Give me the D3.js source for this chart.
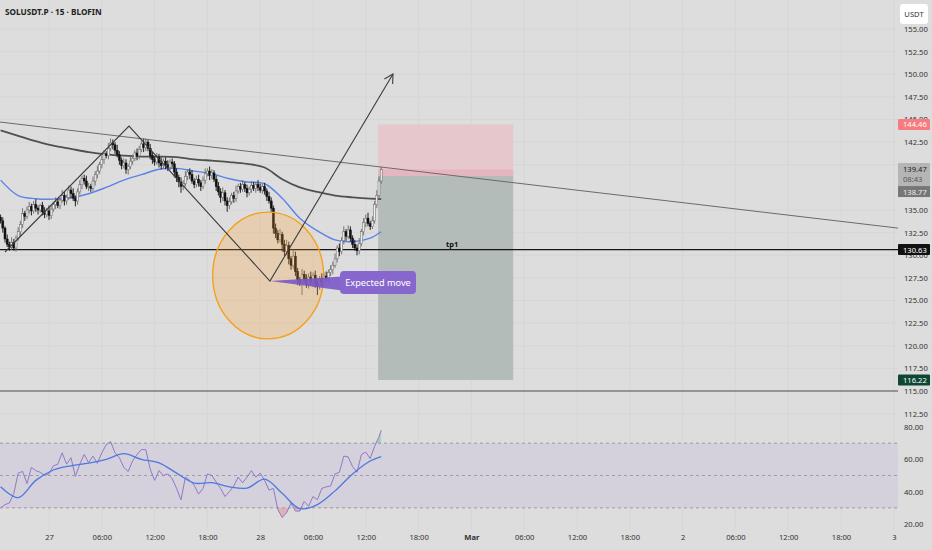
<!DOCTYPE html>
<html><head><meta charset="utf-8">
<script src="https://cdn.jsdelivr.net/npm/d3@7"></script>
<style>
html,body{margin:0;padding:0;background:#dddddd;}
svg{display:block;font-family:"Noto Sans",Roboto,sans-serif;}
</style></head><body>
<svg id="c" width="932" height="550"></svg>
<script>
// ---------------- DATA ----------------
const title = "SOLUSDT.P · 15 · BLOFIN";
const firstOpen = 134.2;
const closes = [
133.8,133.0,131.8,131.2,130.9,131.4,130.8,131.9,132.6,133.4,
134.6,134.3,135.0,135.4,134.9,135.6,135.2,135.0,135.5,134.8,
134.5,134.9,134.4,135.1,135.6,135.9,135.5,136.1,136.6,136.0,
136.4,137.2,136.8,136.3,136.0,137.0,137.8,138.5,138.2,137.6,
137.6,137.4,138.2,138.9,139.3,140.0,140.6,141.2,141.0,141.8,
142.4,142.2,141.6,141.1,140.5,139.9,140.2,139.5,139.8,140.4,
140.7,141.3,141.0,141.7,142.3,141.9,142.5,141.8,141.0,140.6,
140.3,140.8,140.2,139.9,140.4,140.0,139.7,140.3,140.1,139.2,
138.6,138.1,137.6,137.9,138.7,139.2,138.9,138.2,137.8,138.4,
138.0,137.6,138.3,139.0,139.3,138.8,139.1,138.4,137.6,137.0,
136.4,136.9,136.0,135.5,135.9,136.6,136.3,137.1,137.6,137.3,
137.8,137.4,136.9,137.3,137.7,137.4,137.8,137.5,137.2,137.6,
137.1,136.5,136.0,135.2,133.0,132.4,131.7,132.3,131.2,130.4,
131.1,129.6,128.9,129.9,128.2,127.3,127.0,127.9,127.4,126.8,
127.6,127.1,127.8,126.9,126.6,127.4,127.0,127.7,127.5,128.1,
128.4,128.9,129.6,130.8,130.4,131.6,132.6,132.1,132.8,131.9,
131.2,130.8,130.5,131.3,132.6,133.6,134.1,133.5,133.2,133.8,
135.6,136.6,138.2,139.47];
const wickUp = [
.3,.4,.2,.5,.3,.6,.4,.3,.5,.4, .6,.3,.4,.5,.3,.4,.6,.3,.2,.4,
.5,.3,.6,.4,.3,.5,.4,.3,.6,.4, .3,.5,.4,.6,.3,.4,.5,.3,.4,.6,
.4,.3,.5,.4,.6,.3,.5,.4,.3,.6, .5,.4,.3,.6,.4,.3,.5,.4,.3,.5,
.4,.3,.5,.4,.3,.6,.4,.3,.5,.4, .3,.5,.4,.6,.3,.4,.5,.3,.4,.3,
.4,.3,.5,.4,.6,.3,.4,.5,.3,.4, .5,.3,.4,.6,.3,.5,.4,.3,.4,.5,
.4,.6,.3,.4,.5,.3,.4,.6,.3,.4, .5,.3,.4,.3,.5,.4,.3,.5,.4,.3,
.4,.3,.5,.4,.3,.5,.4,.6,.3,.5, .6,.4,.3,.7,.5,.4,.3,.6,.4,.5,
.4,.6,.3,.5,.4,.3,.6,.4,.5,.3, .5,.4,.6,.3,.5,.4,.6,.3,.5,.4,
.3,.5,.4,.6,.3,.5,.4,.6,.3,.5, .4,.6,.5,.3];
const wickDn = [
.3,.5,.4,.3,.4,.3,.3,.4,.3,.5, .4,.5,.3,.4,.5,.3,.4,.5,.3,.4,
.4,.3,.5,.4,.3,.5,.3,.4,.3,.5, .4,.3,.5,.3,.6,.4,.3,.5,.4,.3,
.5,.4,.3,.5,.4,.3,.4,.5,.3,.4, .3,.5,.4,.3,.5,.4,.3,.5,.6,.3,
.4,.3,.5,.4,.3,.5,.4,.3,.4,.5, .4,.3,.5,.4,.3,.5,.4,.3,.4,.6,
.5,.6,.7,.4,.3,.4,.5,.3,.4,.3, .4,.5,.3,.4,.3,.5,.4,.3,.5,.4,
.6,.4,.5,.7,.4,.3,.5,.4,.3,.4, .3,.4,.5,.3,.4,.3,.5,.4,.3,.4,
.4,.5,.3,.4,.6,.5,.4,.3,.8,.5, .4,.6,.5,.4,.5,.6,.4,1.4,.5,.4,
.5,.4,.6,.5,1.0,.4,.5,.3,.4,.5, .4,.5,.3,.4,.5,.3,.4,.5,.3,.4,
.4,.3,.5,.4,.3,.4,.5,.3,.4,.3, .3,.4,.3,.3];
const maBars = d3.range(0,169,8).concat([173]);
const blueMa = [138.3,136.6,136.25,136.2,136.35,136.8,137.5,138.3,138.9,139.5,139.6,139.3,139.0,138.45,138.1,137.9,136.3,134.1,132.7,131.7,131.5,131.9,132.6];
const grayMa = [143.8,143.2,142.6,142.1,141.75,141.4,141.15,141.0,140.9,140.9,140.85,140.6,140.45,140.3,140.1,139.7,138.4,137.5,137.0,136.6,136.4,136.25,136.2];
const rsiBars = d3.range(0,173,2).concat([173]);
const rsiVals = [
30,32,33,39,51.5,52.5,45,55,53,52,
50,51,56,57,64,57,61,49.5,57,63,
58,62,57.5,64,69,71,64,61,55,52.5,
59,63,66,66,54,47,53,50,51,48,
42,35,49,47,44,38.5,42,51,50,46,
42,37,40,43.5,49,45.5,49,53,49,51.5,
47,41,42,29,24,27,33,28,28,34,
31,37,35,42,43,43.5,51,52,62,61.5,
55.5,52,63,64.5,60.5,68,74,78];
const rsiMa = [43,36.3,47,53.4,56,57.6,60,63.5,60,57.8,51.5,45.3,45.6,43,42.2,47.7,39,29.5,32,40.5,51,59,61.7];
const priceTicks = [112.5,115,117.5,120,122.5,125,127.5,130,132.5,135,140,142.5,145,147.5,150,152.5,155];
const rsiTicks = [20,40,60,80];
const rsiLevels = [70,50,30];
const timeTickHours = [0,6,12,18,24,30,36,42,48,54,60,66,72,78,84,90,96];
const timeTickLabels = ["27","06:00","12:00","18:00","28","06:00","12:00","18:00","Mar","06:00","12:00","18:00","2","06:00","12:00","18:00","3"];
// drawings (hours from Feb 27 00:00, price)
const zigHours = [-5.0, 9.09, 25.11, 39.09];
const zigPrices = [130.36, 144.28, 127.15, 150.03];
const trendHours = [-5.57, 96.48];
const trendPrices = [144.72, 133.0];
const position = {startH:37.4, endH:52.75, stop:144.46, entry:138.77, target:116.22, last:139.47};
const tpLevel = 130.63, tpLabel = "tp1", tpHour = 45.8;
const supportLevel = 115.0;
const ellipse = {h:24.9, p:127.76, rh:6.3, rp:7.0};
const callout = {text:"Expected move", h:33.07, p:126.99};
const countdown = "08:43";

// ---------------- SCALES ----------------
const svg = d3.select("#c");
const W = 898;
const T0 = Date.UTC(2025,1,27), H = 3600e3;
const hd = h => new Date(T0 + h*H);
const x = d3.scaleUtc().domain([hd(-49/8.8), hd((W-49)/8.8)]).range([0, W]);
const y = d3.scaleLinear().domain([111.796, 158.204]).range([420, 0]);
const yR = d3.scaleLinear().domain([16.3, 84.33]).range([530, 420]);
const barTime = i => hd(-5.5 + i*0.25);

// ---------------- GRID ----------------
const grid = svg.append("g");
grid.selectAll("line.v").data(timeTickHours).join("line")
  .attr("x1", d=>x(hd(d))).attr("x2", d=>x(hd(d))).attr("y1",0).attr("y2",530)
  .attr("stroke","#d6d6d6").attr("stroke-width",1);
grid.selectAll("line.h").data(priceTicks).join("line")
  .attr("x1",0).attr("x2",W).attr("y1",d=>y(d)).attr("y2",d=>y(d))
  .attr("stroke","#d6d6d6").attr("stroke-width",1);

// ---------------- RSI PANE ----------------
const rsiG = svg.append("g");
rsiG.append("rect").attr("x",0).attr("width",W).attr("y",yR(70)).attr("height",yR(30)-yR(70)).attr("fill","#d4d1dc");
rsiG.selectAll("line.lv").data(rsiLevels).join("line")
  .attr("x1",0).attr("x2",W).attr("y1",d=>yR(d)).attr("y2",d=>yR(d))
  .attr("stroke","#8e8e96").attr("stroke-width",0.8).attr("stroke-dasharray","3,3");
const rsiPts = rsiBars.map((b,i)=>[x(barTime(b)), yR(rsiVals[i])]);
const defs = svg.append("defs");
defs.append("clipPath").attr("id","below30").append("rect").attr("x",0).attr("width",W).attr("y",yR(30)).attr("height",530-yR(30));
defs.append("clipPath").attr("id","above70").append("rect").attr("x",0).attr("width",W).attr("y",0).attr("height",yR(70));
const areaLow = d3.area().x(d=>d[0]).y0(yR(30)).y1(d=>d[1]);
rsiG.append("path").attr("d",areaLow(rsiPts)).attr("fill","rgba(235,80,90,0.3)").attr("clip-path","url(#below30)");
const areaHigh = d3.area().x(d=>d[0]).y0(yR(70)).y1(d=>d[1]);
rsiG.append("path").attr("d",areaHigh(rsiPts)).attr("fill","rgba(60,180,120,0.3)").attr("clip-path","url(#above70)");
rsiG.append("path").attr("d",d3.line()(rsiPts)).attr("fill","none").attr("stroke","#9179c6").attr("stroke-width",1);
rsiG.append("path").attr("d",d3.line().curve(d3.curveCatmullRom)(maBars.map((b,i)=>[x(barTime(b)), yR(rsiMa[i])])))
  .attr("fill","none").attr("stroke","#4d78e0").attr("stroke-width",1.3);

// ---------------- POSITION BOX ----------------
const px0 = x(hd(position.startH)), px1 = x(hd(position.endH));
svg.append("rect").attr("x",px0).attr("width",px1-px0).attr("y",y(position.stop)).attr("height",y(position.entry)-y(position.stop)).attr("fill","#e6c7cc");
svg.append("rect").attr("x",px0).attr("width",px1-px0).attr("y",y(position.last)).attr("height",y(position.entry)-y(position.last)).attr("fill","#e6b6c0");
svg.append("rect").attr("x",px0).attr("width",px1-px0).attr("y",y(position.entry)).attr("height",y(position.target)-y(position.entry)).attr("fill","#b3bcb9");

// horizontal levels
svg.append("line").attr("x1",0).attr("x2",W).attr("y1",y(supportLevel)).attr("y2",y(supportLevel)).attr("stroke","#7d7d7d").attr("stroke-width",1.6);
svg.append("line").attr("x1",0).attr("x2",W).attr("y1",y(tpLevel)).attr("y2",y(tpLevel)).attr("stroke","#151515").attr("stroke-width",1.3);

// ---------------- MAs ----------------
const maLine = d3.line().curve(d3.curveCatmullRom);
svg.append("path").attr("d",maLine(maBars.map((b,i)=>[x(barTime(b)), y(grayMa[i])])))
  .attr("fill","none").attr("stroke","#505050").attr("stroke-width",1.8);
svg.append("path").attr("d",maLine(maBars.map((b,i)=>[x(barTime(b)), y(blueMa[i])])))
  .attr("fill","none").attr("stroke","#5b82e6").attr("stroke-width",1.4);

// ---------------- CANDLES ----------------
const bars = closes.map((c,i)=>{
  const o = i===0 ? firstOpen : closes[i-1];
  return {t:barTime(i), o, c, h:Math.max(o,c)+wickUp[i], l:Math.min(o,c)-wickDn[i]};
});
const cg = svg.append("g");
const bw = 2.0;
cg.selectAll("line").data(bars).join("line")
  .attr("x1",d=>x(d.t)).attr("x2",d=>x(d.t)).attr("y1",d=>y(d.h)).attr("y2",d=>y(d.l))
  .attr("stroke",d=>d.c>=d.o?"#6a6a6a":"#111").attr("stroke-width",0.9);
cg.selectAll("rect").data(bars).join("rect")
  .attr("x",d=>x(d.t)-bw/2).attr("width",bw)
  .attr("y",d=>y(Math.max(d.o,d.c))).attr("height",d=>Math.max(0.8, Math.abs(y(d.o)-y(d.c))))
  .attr("fill",d=>d.c>=d.o?"#ececec":"#111")
  .attr("stroke",d=>d.c>=d.o?"#666666":"#111").attr("stroke-width",0.5);

// ---------------- DRAWINGS ----------------
const ex = x(hd(ellipse.h)), ey = y(ellipse.p);
svg.append("ellipse").attr("cx",ex).attr("cy",ey)
  .attr("rx",x(hd(ellipse.h+ellipse.rh))-ex).attr("ry",y(ellipse.p-ellipse.rp)-ey)
  .attr("fill","rgba(255,160,40,0.24)").attr("stroke","#f5a020").attr("stroke-width",1.4);

svg.append("line").attr("x1",x(hd(trendHours[0]))).attr("y1",y(trendPrices[0]))
  .attr("x2",x(hd(trendHours[1]))).attr("y2",y(trendPrices[1]))
  .attr("stroke","#6a6a6a").attr("stroke-width",1);

const zig = zigHours.map((h,i)=>[x(hd(h)), y(zigPrices[i])]);
svg.append("path").attr("d",d3.line()(zig)).attr("fill","none").attr("stroke","#3c3c3c").attr("stroke-width",1.1);
{
  const [ax,ay] = zig[zig.length-1], [bx,by] = zig[zig.length-2];
  const ang = Math.atan2(by-ay, bx-ax), L = 10;
  const p1 = [ax+L*Math.cos(ang+0.5), ay+L*Math.sin(ang+0.5)];
  const p2 = [ax+L*Math.cos(ang-0.5), ay+L*Math.sin(ang-0.5)];
  svg.append("path").attr("d",d3.line()([p1,[ax,ay],p2])).attr("fill","none").attr("stroke","#3c3c3c").attr("stroke-width",1.1);
}

// callout
const cx0 = x(hd(callout.h)), cy = y(callout.p);
const tip = zig[2];
svg.append("path").attr("d",d3.line()([tip,[cx0+2,cy-6],[cx0+2,cy+8]])+"Z").attr("fill","#7a58c6").attr("opacity",0.9);
svg.append("rect").attr("x",cx0).attr("y",cy-11.5).attr("width",76).attr("height",23).attr("rx",4)
  .attr("fill","#8767cd");
svg.append("text").attr("x",cx0+38).attr("y",cy+3.3).attr("text-anchor","middle").attr("fill","#ffffff").attr("font-size",9.2).text(callout.text);

svg.append("text").attr("x",x(hd(tpHour))).attr("y",y(tpLevel)-3).attr("text-anchor","middle")
  .attr("font-size",7.5).attr("font-weight",700).attr("fill","#111").text(tpLabel);

// ---------------- AXES ----------------
const axR = svg.append("g").attr("transform",`translate(${W},0)`)
  .call(d3.axisRight(y).tickValues(priceTicks).tickFormat(d3.format(".2f")).tickSize(0).tickPadding(6));
const axRR = svg.append("g").attr("transform",`translate(${W},0)`)
  .call(d3.axisRight(yR).tickValues(rsiTicks).tickFormat(d3.format(".2f")).tickSize(0).tickPadding(6));
const axB = svg.append("g").attr("transform","translate(0,531)")
  .call(d3.axisBottom(x).tickValues(timeTickHours.map(hd)).tickFormat((d,i)=>timeTickLabels[i]).tickSize(0).tickPadding(4));
[axR,axRR,axB].forEach(a=>{ a.select(".domain").remove(); a.selectAll("text").attr("fill","#333").attr("font-size",7.6).attr("font-family","'Noto Sans',Roboto,sans-serif"); });
axB.selectAll("text").filter((d,i)=>timeTickLabels[i]==="Mar").attr("font-weight",700);

// price label boxes
function tag(p, fill, color, label, yc){
  const yy = yc===undefined ? y(p) : yc;
  svg.append("rect").attr("x",W).attr("y",yy-5.5).attr("width",32).attr("height",11).attr("rx",1).attr("fill",fill);
  svg.append("text").attr("x",W+5).attr("y",yy+3).attr("font-size",7.6).attr("fill",color).text(label);
}
tag(position.stop, "#f77c80", "#ffffff", d3.format(".2f")(position.stop));
{
  const top = y(position.last)-6.5;
  svg.append("rect").attr("x",W).attr("y",top).attr("width",32).attr("height",23).attr("fill","#b5b5b5");
  svg.append("text").attr("x",W+5).attr("y",top+9).attr("font-size",7.6).attr("fill","#222").text(d3.format(".2f")(position.last));
  svg.append("text").attr("x",W+5).attr("y",top+19).attr("font-size",7.6).attr("fill","#555").text(countdown);
  svg.append("rect").attr("x",W).attr("y",top+23).attr("width",32).attr("height",11).attr("fill","#777777");
  svg.append("text").attr("x",W+5).attr("y",top+31.5).attr("font-size",7.6).attr("fill","#eeeeee").text(d3.format(".2f")(position.entry));
}
tag(tpLevel, "#111111", "#ffffff", d3.format(".2f")(tpLevel));
tag(position.target, "#0e4634", "#ffffff", d3.format(".2f")(position.target));

// currency box
svg.append("rect").attr("x",900).attr("y",4).attr("width",28).attr("height",20).attr("rx",3).attr("fill","#ffffff");
svg.append("text").attr("x",914).attr("y",17).attr("text-anchor","middle").attr("font-size",7.6).attr("fill","#333").text("USDT");

// title
svg.append("text").attr("x",5).attr("y",15).attr("font-size",8.2).attr("font-weight",700).attr("fill","#222").text(title);
</script>
</body></html>
